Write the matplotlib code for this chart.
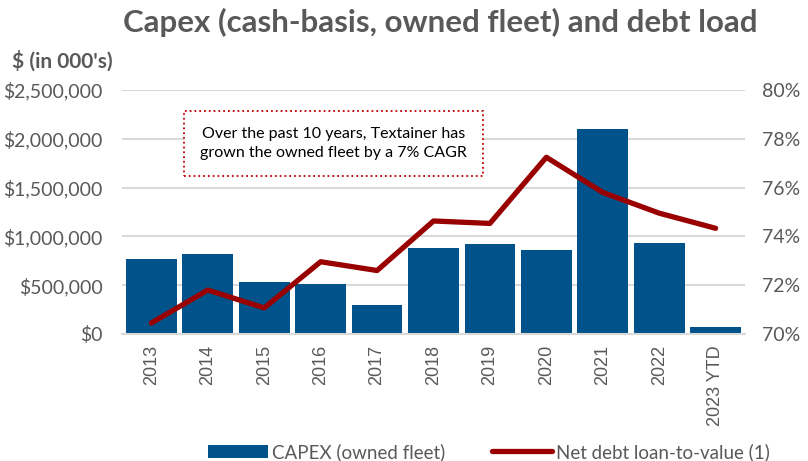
import matplotlib.pyplot as plt
import matplotlib.ticker as mtick
import numpy as np

years = ['2013', '2014', '2015', '2016', '2017', '2018', '2019', '2020', '2021', '2022', '2023 YTD']
capex = [765000, 820000, 533000, 509000, 297000, 884000, 922000, 860000, 2100000, 935000, 72000]
ltv = [70.45, 71.8, 71.07, 72.96, 72.6, 74.63, 74.53, 77.24, 75.8, 74.95, 74.33]

blue = '#00538a'
red = '#990000'
grey = '#595959'
plt.rcParams['font.family'] = ['Lato', 'DejaVu Sans']

fig = plt.figure(figsize=(8.08, 4.61), dpi=100)
ax = fig.add_axes([0.151, 0.2755, 0.771, 0.5295])
x = np.arange(len(years))

ax.bar(x, capex, width=0.9, color=blue, zorder=2, label='CAPEX (owned fleet)')
ax.set_ylim(0, 2500000)
ax.set_yticks(np.arange(0, 2500001, 500000))
ax.yaxis.set_major_formatter(mtick.FuncFormatter(lambda v, p: '${:,.0f}'.format(v)))
ax.grid(axis='y', color='#d9d9d9', linewidth=1.5, zorder=0)
ax.set_axisbelow(True)
ax.set_xlim(-0.52, len(years) - 0.48)
ax.set_xticks(x)
ax.set_xticklabels(years, rotation=90, fontsize=13, family='Liberation Sans', color=grey)
for s in ['top', 'right', 'left']:
    ax.spines[s].set_visible(False)
ax.spines['bottom'].set_color('#d9d9d9')
ax.spines['bottom'].set_linewidth(1.5)
ax.tick_params(axis='both', length=0, colors=grey)
ax.tick_params(axis='y', pad=14, labelsize=14)
ax.tick_params(axis='x', pad=8)

ax2 = ax.twinx()
ax2.plot(x, ltv, color=red, linewidth=3.8, solid_capstyle='round', zorder=3, label='Net debt loan-to-value (1)')
ax2.set_ylim(70, 80)
ax2.set_yticks(np.arange(70, 81, 2))
ax2.yaxis.set_major_formatter(mtick.FuncFormatter(lambda v, p: '{:.0f}%'.format(v)))
for s in ['top', 'right', 'left', 'bottom']:
    ax2.spines[s].set_visible(False)
ax2.tick_params(axis='y', length=0, colors=grey, labelsize=14, pad=12)

fig.text(0.545, 0.952, 'Capex (cash-basis, owned fleet) and debt load', ha='center', va='center',
         fontsize=22.5, fontweight='bold', color=grey)
fig.text(0.015, 0.868, "$ (in 000's)", ha='left', va='center', fontsize=15, fontweight='bold', color=grey)

ax.text(0.34, 0.78, 'Over the past 10 years, Textainer has\ngrown the owned fleet by a 7% CAGR',
        transform=ax.transAxes, ha='center', va='center', fontsize=11.5, color='black', linespacing=1.4,
        bbox=dict(boxstyle='square,pad=1.0', facecolor='white', edgecolor='#c00000', linestyle=':', linewidth=1.3),
        zorder=5)

h1, l1 = ax.get_legend_handles_labels()
h2, l2 = ax2.get_legend_handles_labels()
fig.legend(h1 + h2, l1 + l2, loc='center', bbox_to_anchor=(0.605, 0.02), ncol=2, frameon=False,
           fontsize=13.5, labelcolor=grey, handlelength=3.2, handletextpad=0.2, columnspacing=2.5)

fig.savefig('out.png', dpi=100)
